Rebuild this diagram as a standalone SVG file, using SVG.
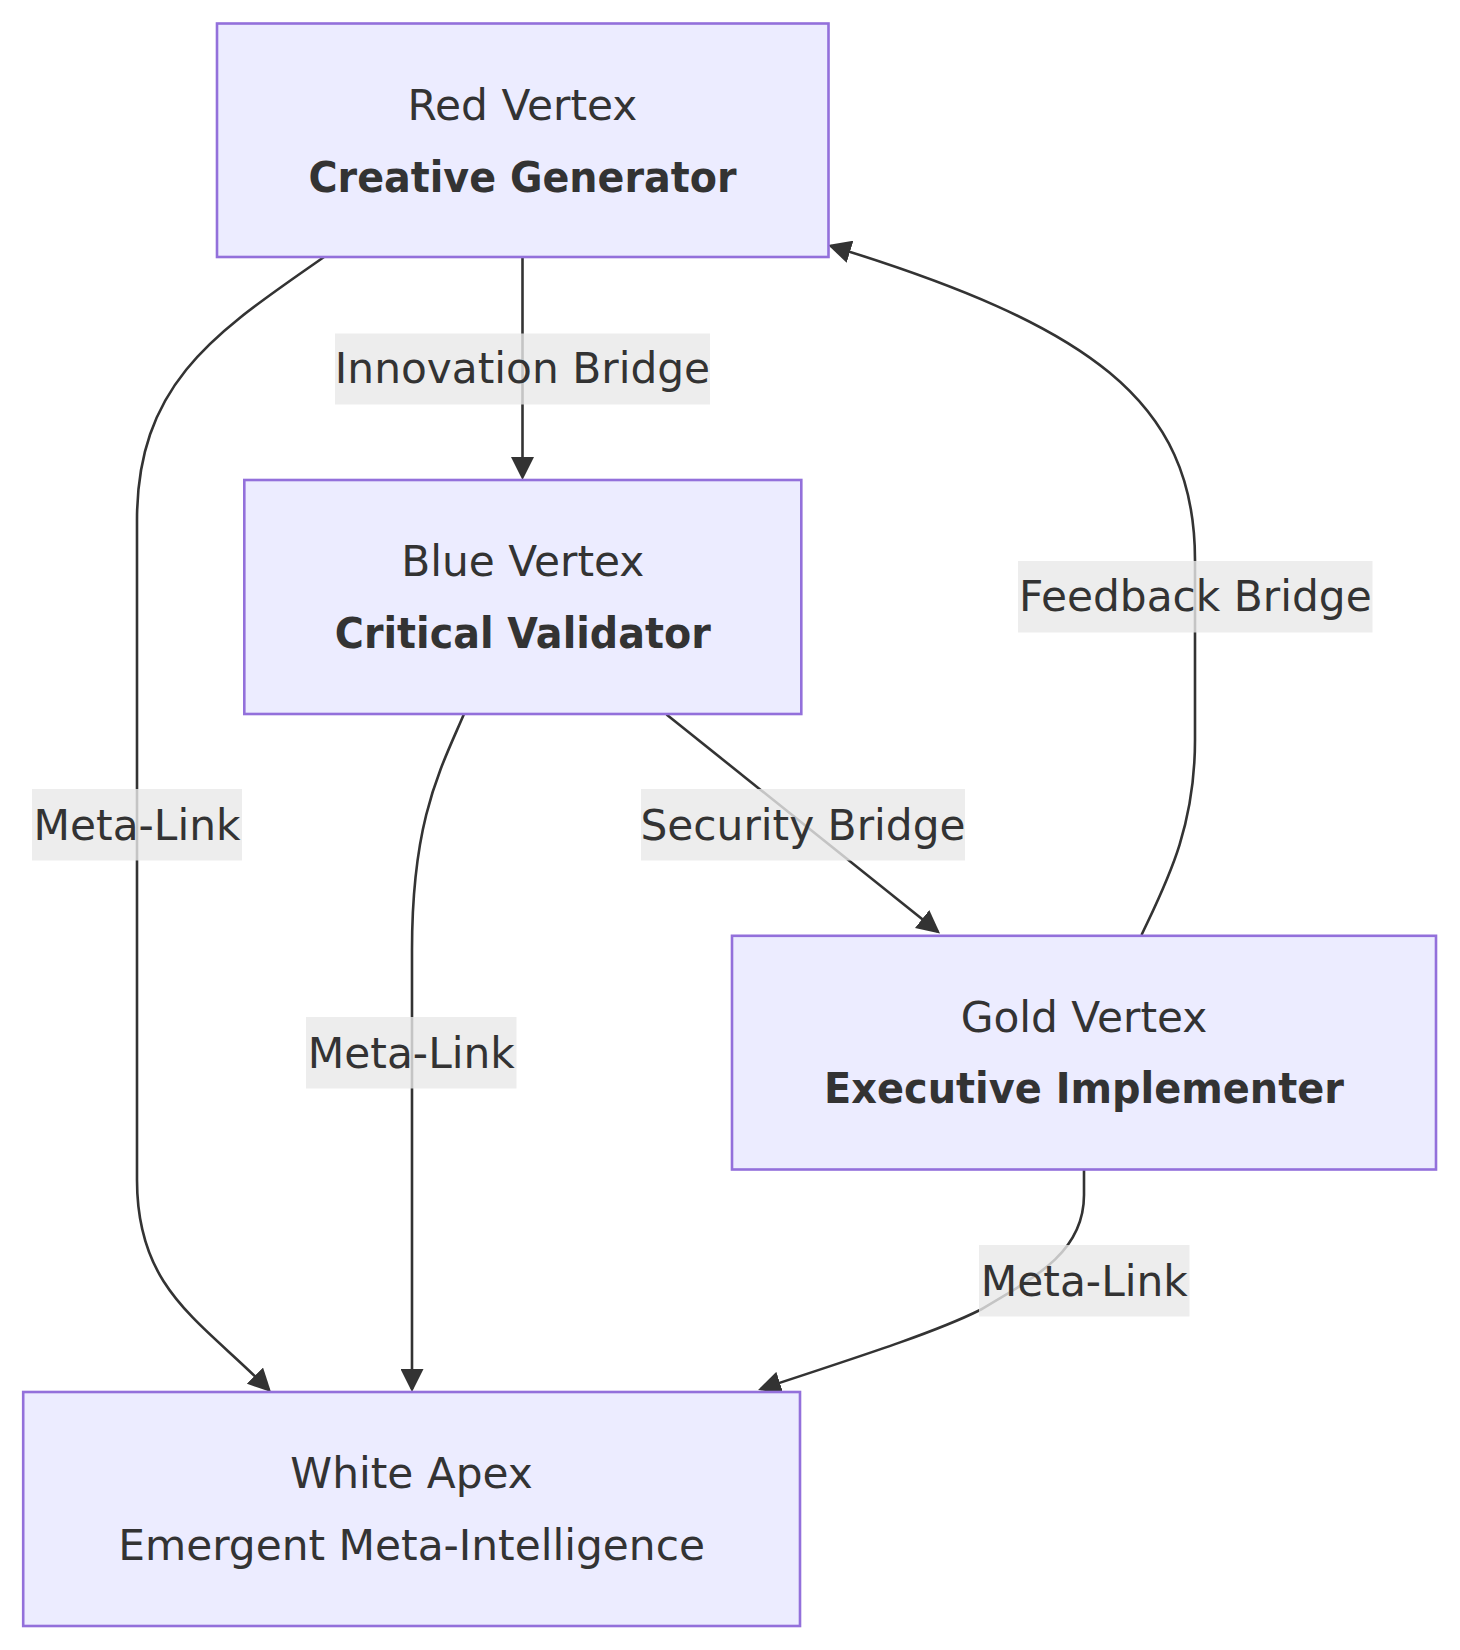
<svg xmlns="http://www.w3.org/2000/svg" width="1460" height="1650" viewBox="0 0 1460 1650">
<style>
.node rect{fill:#ECECFF;stroke:#9370DB;stroke-width:2.6}
text{font-family:"DejaVu Sans","Liberation Sans",sans-serif;font-size:42.3px;fill:#333;text-anchor:middle}
.b{font-weight:bold}
.edge{fill:none;stroke:#333;stroke-width:2.6}
.lbl rect{fill:#e8e8e8;fill-opacity:0.8}
</style>
<defs>
<marker id="arrow" viewBox="0 0 10 10" refX="8.7" refY="5" markerUnits="userSpaceOnUse" markerWidth="23" markerHeight="23" orient="auto">
<path d="M0,0 L10,5 L0,10 z" fill="#333"/>
</marker>
</defs>
<rect width="1460" height="1650" fill="#fff"/>
<g id="connectors">
<path class="edge" d="M522.5,257 L522.5,477" marker-end="url(#arrow)"/>
<path class="edge" d="M324,257 C220,330 137,380 137,520 L137,1180 C137,1290 200,1320 268.9,1389.9" marker-end="url(#arrow)"/>
<path class="edge" d="M464,714 C440,770 412,820 412,950 L412,1389" marker-end="url(#arrow)"/>
<path class="edge" d="M666.5,714.5 L937.7,931.6" marker-end="url(#arrow)"/>
<path class="edge" d="M1141.5,935 C1165,885 1195,830 1195,740 L1195,560 C1195,400 1088,325 830.9,245.9" marker-end="url(#arrow)"/>
<path class="edge" d="M1084,1170 L1084,1195 C1084,1250 1040,1275 980,1310 C940,1330 880,1350 760.9,1389" marker-end="url(#arrow)"/>
</g>
<g id="edge-labels">
<g class="lbl" id="label-innovation"><rect x="335" y="333.5" width="375" height="71"/><text x="522.5" y="383">Innovation Bridge</text></g>
<g class="lbl" id="label-meta-left"><rect x="32" y="789" width="210" height="71.5"/><text x="137" y="840">Meta-Link</text></g>
<g class="lbl" id="label-meta-mid"><rect x="306" y="1017" width="210.5" height="71.5"/><text x="411.3" y="1068">Meta-Link</text></g>
<g class="lbl" id="label-security"><rect x="641" y="789" width="324" height="71.5"/><text x="803" y="840">Security Bridge</text></g>
<g class="lbl" id="label-feedback"><rect x="1018" y="561" width="354.5" height="71.5"/><text x="1195.3" y="611">Feedback Bridge</text></g>
<g class="lbl" id="label-meta-right"><rect x="979" y="1245" width="210.5" height="71.5"/><text x="1084.3" y="1295.5">Meta-Link</text></g>
</g>
<g class="node" id="red-vertex"><rect x="217" y="23.5" width="611.5" height="233.5"/><text x="522.5" y="119.5">Red Vertex</text><text class="b" x="522.5" y="191.5" textLength="428" lengthAdjust="spacingAndGlyphs">Creative Generator</text></g>
<g class="node" id="blue-vertex"><rect x="244.3" y="480" width="557" height="234"/><text x="522.8" y="576">Blue Vertex</text><text class="b" x="522.8" y="648" textLength="376" lengthAdjust="spacingAndGlyphs">Critical Validator</text></g>
<g class="node" id="gold-vertex"><rect x="732" y="935.8" width="704" height="233.7"/><text x="1084" y="1031.5">Gold Vertex</text><text class="b" x="1084" y="1103.3" textLength="520" lengthAdjust="spacingAndGlyphs">Executive Implementer</text></g>
<g class="node" id="white-apex"><rect x="23.2" y="1392" width="776.8" height="234"/><text x="411.6" y="1487.5">White Apex</text><text x="411.6" y="1560">Emergent Meta-Intelligence</text></g>
</svg>
